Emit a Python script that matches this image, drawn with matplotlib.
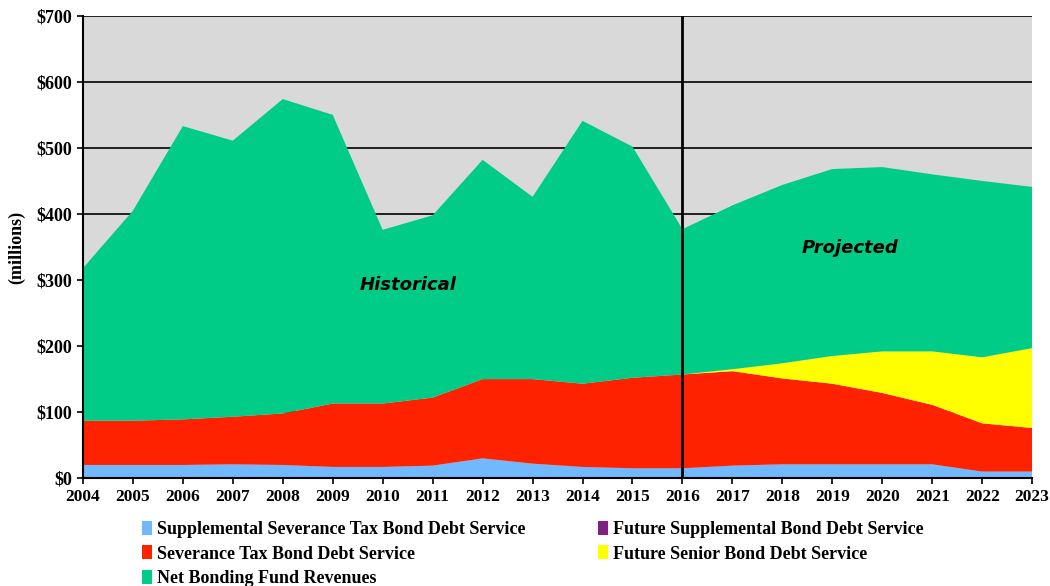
import matplotlib.pyplot as plt
import numpy as np

years = list(range(2004, 2024))
# cumulative tops ($ millions)
supp_top = [20, 20, 20, 21, 20, 17, 17, 19, 30, 22, 17, 15, 15, 19, 21, 21, 21, 21, 10, 10]
sev_top = [87, 87, 89, 93, 98, 113, 113, 122, 150, 150, 143, 152, 157, 162, 151, 143, 129, 111, 83, 76]
senior_top = [87, 87, 89, 93, 98, 113, 113, 122, 150, 150, 143, 152, 157, 165, 174, 185, 192, 192, 183, 197]
total = [318, 405, 533, 511, 574, 550, 376, 398, 482, 426, 541, 502, 377, 413, 444, 468, 471, 460, 450, 441]

supp = np.array(supp_top)
sev = np.array(sev_top) - supp
fut_supp = np.zeros(len(years))
fut_senior = np.array(senior_top) - np.array(sev_top)
net = np.array(total) - np.array(senior_top)

plt.rcParams['font.family'] = 'Liberation Serif'
fig = plt.figure(figsize=(10.5, 5.86), dpi=100)
ax = fig.add_axes([0.079, 0.184, 0.904, 0.789])
ax.set_facecolor('#D9D9D9')

ax.stackplot(years, supp, sev, fut_supp, fut_senior, net,
             colors=['#70B8FF', '#FF2200', '#7F1F7F', '#FFFF00', '#00CC88'],
             labels=['Supplemental Severance Tax Bond Debt Service',
                     'Severance Tax Bond Debt Service',
                     'Future Supplemental Bond Debt Service',
                     'Future Senior Bond Debt Service',
                     'Net Bonding Fund Revenues'],
             linewidth=0, zorder=2)

for v in range(100, 701, 100):
    ax.axhline(v, color='black', lw=1.2, zorder=1)
ax.axvline(2016, color='black', lw=2, zorder=3)

ax.set_xlim(2004, 2023)
ax.set_ylim(0, 700)
ax.set_xticks(years)
ax.set_xticklabels([str(y) for y in years], fontweight='bold', fontsize=12.5)
ax.set_yticks(range(0, 701, 100))
ax.set_yticklabels(['$' + str(v) for v in range(0, 701, 100)], fontweight='bold', fontsize=13)
ax.tick_params(direction='out', length=4, width=1.2)
for s in ['top', 'right']:
    ax.spines[s].set_visible(False)
ax.spines['left'].set_linewidth(1.5)
ax.spines['bottom'].set_linewidth(1.5)
ax.set_ylabel('(millions)', fontweight='bold', fontsize=13, labelpad=8)

ax.text(2010.5, 293, 'Historical', fontsize=13, fontweight='bold', style='italic',
        family='DejaVu Sans', ha='center', va='center', zorder=4)
ax.text(2019.35, 349, 'Projected', fontsize=13, fontweight='bold', style='italic',
        family='DejaVu Sans', ha='center', va='center', zorder=4)

h, l = ax.get_legend_handles_labels()
order = [0, 1, 4, 2, 3]
ax.legend([h[i] for i in order], [l[i] for i in order], ncol=2, frameon=False,
          loc='upper left', bbox_to_anchor=(0.0545, -0.077), prop={'weight': 'bold', 'size': 13},
          handlelength=0.55, handleheight=0.8, handletextpad=0.3, columnspacing=4.0,
          labelspacing=0.4, borderaxespad=0)

fig.savefig('out.png', dpi=100)
